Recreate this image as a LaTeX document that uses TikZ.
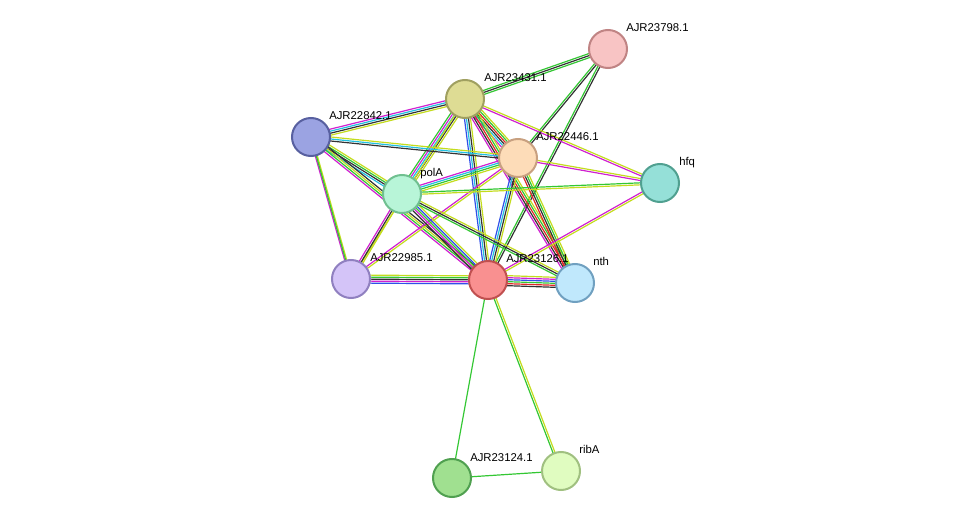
\documentclass[tikz,border=0pt]{standalone}
\usepackage{fontspec}
\setmainfont{Liberation Sans}
\usetikzlibrary{calc}
\definecolor{cG}{HTML}{33C733}
\definecolor{cY}{HTML}{C4DC1E}
\definecolor{cK}{HTML}{333333}
\definecolor{cM}{HTML}{D020D0}
\definecolor{cC}{HTML}{22C0E0}
\definecolor{cB}{HTML}{3050E8}
\definecolor{cR}{HTML}{E02828}
\newcommand\lnk[3]{%
  \foreach \c [count=\i] in {#3} {\xdef\nn{\i}}%
  \foreach \c [count=\i] in {#3} {%
    \pgfmathsetmacro\o{(\i-(\nn+1)/2)*1.5}%
    \draw[\c,line width=0.9pt] ($(#1)!\o pt!90:(#2)$) -- ($(#2)!\o pt!-90:(#1)$);}%
}
\tikzset{pn/.style 2 args={circle,minimum size=28.5pt,inner sep=0pt,line width=1.5pt,
   /utils/exec={\definecolor{fc}{HTML}{#1}\definecolor{dc}{HTML}{#2}},fill=fc,draw=dc},
 lb/.style={font=\fontsize{8.5pt}{9pt}\selectfont,inner sep=0pt,anchor=base west}}
\begin{document}
\begin{tikzpicture}[x=0.75pt,y=-0.75pt]
\useasboundingbox (0,0) rectangle (976,524);
\coordinate (n1) at (608,49);
\coordinate (n2) at (465,99);
\coordinate (n3) at (311,137);
\coordinate (n4) at (518,158);
\coordinate (n5) at (660,183);
\coordinate (n6) at (402,194);
\coordinate (n7) at (351,279);
\coordinate (n8) at (488,280);
\coordinate (n9) at (575,283);
\coordinate (n10) at (452,478);
\coordinate (n11) at (561,471);
\lnk{n1}{n2}{cG,cK,cG}
\lnk{n1}{n4}{cG,cK}
\lnk{n1}{n8}{cG,cK}
\lnk{n2}{n3}{cM,cC,cK,cY}
\lnk{n2}{n4}{cM,cC,cK,cR,cG,cY}
\lnk{n2}{n6}{cG,cM,cC,cK,cY}
\lnk{n2}{n8}{cB,cC,cK,cY}
\lnk{n2}{n9}{cM,cK,cR,cG,cY}
\lnk{n2}{n5}{cM,cY}
\lnk{n2}{n7}{cY}
\lnk{n3}{n4}{cK,cC,cY}
\lnk{n3}{n6}{cC,cK,cG,cY}
\lnk{n3}{n8}{cM,cG,cY,cK}
\lnk{n3}{n7}{cM,cY}
\lnk{n3}{n7}{cG}
\lnk{n4}{n5}{cM,cY}
\lnk{n4}{n6}{cM,cC,cG,cY}
\lnk{n4}{n8}{cB,cC,cK,cY}
\lnk{n4}{n9}{cR,cK,cG,cY}
\lnk{n4}{n7}{cM,cY}
\lnk{n5}{n6}{cG,cY}
\lnk{n5}{n8}{cM,cY}
\lnk{n6}{n7}{cM,cK,cY}
\lnk{n6}{n8}{cK,cM,cG,cB,cY}
\lnk{n6}{n9}{cG,cK,cY}
\lnk{n7}{n8}{cB,cM,cK,cG,cY}
\lnk{n8}{n9}{cK,cR,cG,cB,cM,cY}
\lnk{n8}{n10}{cG}
\lnk{n8}{n11}{cG,cY}
\lnk{n10}{n11}{cG}
\node[pn={F8C4C4}{C08484}] (a1) at (n1) {};
\node[pn={DEDC94}{A0A060}] (a2) at (n2) {};
\node[pn={9BA3E2}{5860A0}] (a3) at (n3) {};
\node[pn={FDDCB8}{C8A080}] (a4) at (n4) {};
\node[pn={95E0D8}{50A090}] (a5) at (n5) {};
\node[pn={B8F5D8}{70C090}] (a6) at (n6) {};
\node[pn={D4C4F8}{9080C0}] (a7) at (n7) {};
\node[pn={F99090}{C05050}] (a8) at (n8) {};
\node[pn={C0E8FC}{70A0C0}] (a9) at (n9) {};
\node[pn={A0E090}{50A050}] (a10) at (n10) {};
\node[pn={E0FCC0}{A0C080}] (a11) at (n11) {};
\node[lb] (l1) at (626,32) {AJR23798.1};
\node[lb] (l2) at (484,82) {AJR23431.1};
\node[lb] (l3) at (329,120) {AJR22842.1};
\node[lb] (l4) at (536,141) {AJR22446.1};
\node[lb] (l5) at (679,166) {hfq};
\node[lb] (l6) at (420,177) {polA};
\node[lb] (l7) at (370,262) {AJR22985.1};
\node[lb] (l8) at (506,263) {AJR23126.1};
\node[lb] (l9) at (593,266) {nth};
\node[lb] (l10) at (470,461) {AJR23124.1};
\node[lb] (l11) at (579,454) {ribA};
\end{tikzpicture}
\end{document}
